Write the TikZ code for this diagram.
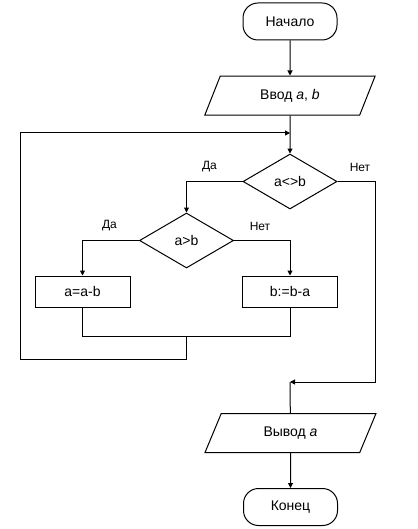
\documentclass[tikz,border=0pt]{standalone}
\usepackage{fontspec}
\setmainfont{Liberation Sans}
\usetikzlibrary{positioning,arrows.meta,shapes.geometric}

\begin{document}
\begin{tikzpicture}[x=1pt, y=-1pt, line width=1pt,
  font=\fontsize{14}{16}\selectfont,
  term/.style={draw, rounded corners=15pt, minimum width=94pt, minimum height=37pt, inner sep=0pt},
  io/.style={draw, trapezium, trapezium left angle=63, trapezium right angle=117, trapezium stretches, minimum width=171pt, minimum height=39pt, inner sep=0pt},
  decision/.style={draw, diamond, aspect=1.7, minimum width=94pt, minimum height=55pt, inner sep=0pt},
  action/.style={draw, minimum width=95pt, minimum height=31pt, inner sep=0pt},
  lbl/.style={font=\fontsize{12}{14}\selectfont, inner sep=0pt},
  arr/.style={-{Triangle[length=5pt, width=5pt]}}]
\useasboundingbox (0,0) rectangle (417,529);
\node[term] (start) at (290,21.5) {Начало};
\node[io, below=35pt of start] (inp) {Ввод \textit{a}, \textit{b}};
\node[decision, below=38pt of inp] (cond1) {a<>b};
\node[decision] (cond2) at (186.5,240.5) {a>b};
\node[action] (sub1) at (82.5,291.5) {a=a-b};
\node[action] (sub2) at (290,291.5) {b:=b-a};
\node[io] (outp) at (290.5,433) {Вывод \textit{a}};
\node[term, below=35pt of outp] (stop) {Конец};
% branch labels
\node[lbl] (yes1) at (209.5,167) {Да};
\node[lbl] (no1) at (360,167) {Нет};
\node[lbl] (yes2) at (109.5,226) {Да};
\node[lbl] (no2) at (260,226) {Нет};
\coordinate (loop) at (290,133);
\coordinate (merge) at (186.5,336);
\coordinate (exit) at (290,382);
\draw[arr] (start) -- (inp);
\draw[arr] (inp) -- (cond1);
\draw[arr] (cond1.west) -| (cond2.north);
\draw[arr] (cond2.west) -| (sub1.north);
\draw[arr] (cond2.east) -| (sub2.north);
\draw (sub1) -- (sub1 |- merge) -- (sub2 |- merge) -- (sub2);
\draw[arr] (merge) -- ++(0,23) -| (20,133) -- (loop);
\draw[arr] (cond1.east) -- ++(38,0) |- (exit);
\draw (exit) -- (outp);
\draw[arr] (outp) -- (stop);
\end{tikzpicture}
\end{document}
